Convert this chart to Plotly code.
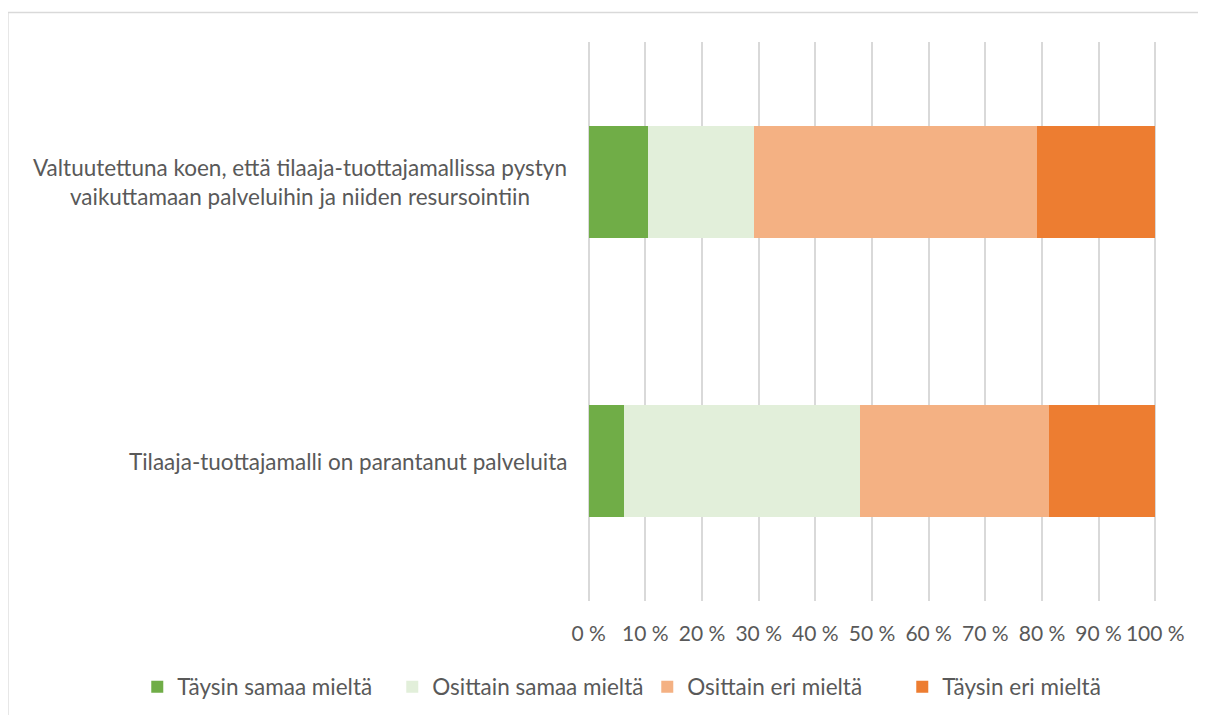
import plotly.graph_objects as go

categories = [
    "Tilaaja-tuottajamalli on parantanut palveluita",
    "Valtuutettuna koen, että tilaaja-tuottajamallissa pystyn<br>vaikuttamaan palveluihin ja niiden resursointiin",
]
series_names = ["Täysin samaa mieltä", "Osittain samaa mieltä", "Osittain eri mieltä", "Täysin eri mieltä"]
taysin_samaa = [6.25, 10.4]
osittain_samaa = [41.7, 18.8]
osittain_eri = [33.3, 50.0]
taysin_eri = [18.75, 20.8]
tick_vals = [0, 10, 20, 30, 40, 50, 60, 70, 80, 90, 100]
tick_text = ["0 %", "10 %", "20 %", "30 %", "40 %", "50 %", "60 %", "70 %", "80 %", "90 %", "100 %"]

colors = ["#70AD47", "#E2EFDA", "#F4B183", "#ED7D31"]
values = [taysin_samaa, osittain_samaa, osittain_eri, taysin_eri]

FONT = "Lato"
TXT = "#595959"

fig = go.Figure()
for name, vals, col in zip(series_names, values, colors):
    fig.add_trace(go.Bar(
        y=categories, x=vals, name=name, orientation="h",
        marker=dict(color=col, line=dict(width=0)),
    ))

for cat in categories:
    fig.add_annotation(
        x=0.003, xref="paper", y=cat, yref="y",
        text=cat, showarrow=False, xanchor="right", yanchor="middle",
        align="center", xshift=-20,
        font=dict(family=FONT, size=22.5, color=TXT),
    )

# chart border
fig.add_shape(type="line", xref="paper", yref="paper",
              x0=-1.016, x1=1.2, y0=1.0528, y1=1.0528,
              line=dict(color="#D9D9D9", width=1.5))
fig.add_shape(type="line", xref="paper", yref="paper",
              x0=-1.016, x1=-1.016, y0=1.0528, y1=-0.3,
              line=dict(color="#D9D9D9", width=1.5))

fig.update_layout(
    barmode="stack",
    bargap=0.6,
    width=1198, height=707,
    margin=dict(l=579, r=49, t=34, b=114, autoexpand=False),
    paper_bgcolor="white", plot_bgcolor="white",
    font=dict(family=FONT, size=21, color=TXT),
    xaxis=dict(range=[-0.3, 100.3], tickvals=tick_vals, ticktext=tick_text,
               showgrid=True, gridcolor="#D9D9D9", gridwidth=1.5,
               zeroline=False, showline=False, ticks="",
               tickangle=0, ticklabelstandoff=18,
               tickfont=dict(family=FONT, size=21, color=TXT)),
    yaxis=dict(showticklabels=False, showgrid=False, zeroline=False, ticks=""),
    legend=dict(orientation="h", x=-0.789, xanchor="left", y=-0.154, yanchor="middle",
                font=dict(family=FONT, size=22.5, color=TXT),
                traceorder="normal", entrywidth=210, entrywidthmode="pixels",
                itemwidth=30),
    showlegend=True,
)

fig.write_html("out.html")
